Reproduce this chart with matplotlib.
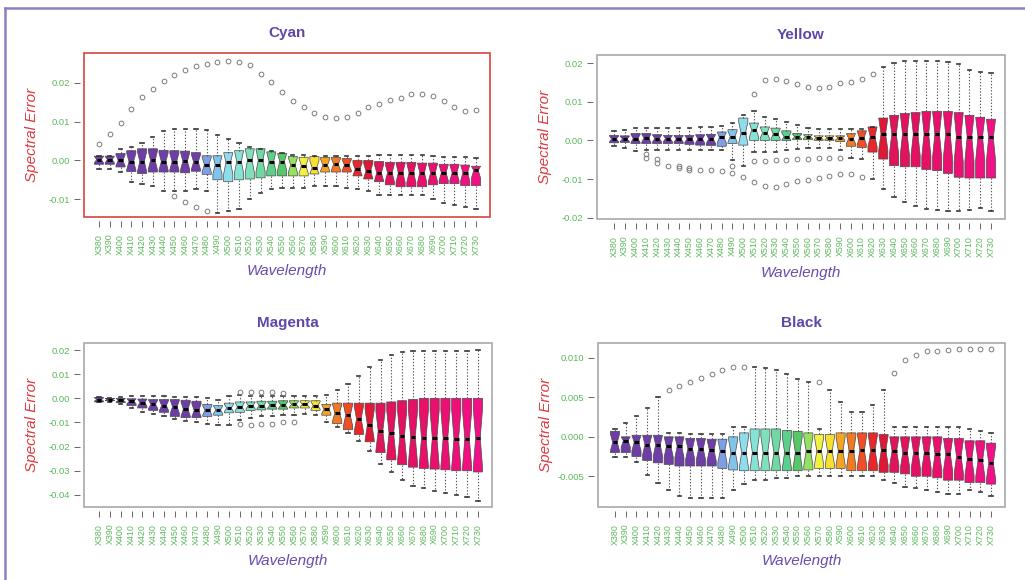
import numpy as np
import matplotlib
matplotlib.use("Agg")
import matplotlib.pyplot as plt
from matplotlib.patches import Rectangle
from matplotlib.lines import Line2D

plt.rcParams["font.family"] = ["Liberation Sans", "DejaVu Sans"]

W_PX, H_PX = 1025, 580

wavelength_labels = [
    "X380", "X390", "X400", "X410", "X420", "X430", "X440", "X450", "X460",
    "X470", "X480", "X490", "X500", "X510", "X520", "X530", "X540", "X550",
    "X560", "X570", "X580", "X590", "X600", "X610", "X620", "X630", "X640",
    "X650", "X660", "X670", "X680", "X690", "X700", "X710", "X720", "X730",
]

# ---- Cyan ----
cyan_med = [0.0002, 0.0002, 0.0000, -0.0003, -0.0003, 0.0000, -0.0003, -0.0003, -0.0002, -0.0004,
            -0.0011, -0.0011, -0.0005, -0.0003, 0.0000, 0.0000, -0.0003, -0.0003, -0.0012, -0.0014,
            -0.0019, -0.0012, -0.0010, -0.0012, -0.0023, -0.0027, -0.0032, -0.0032, -0.0032, -0.0032,
            -0.0032, -0.0032, -0.0032, -0.0032, -0.0032, -0.0026]
cyan_q3 = [0.0011, 0.0011, 0.0018, 0.0025, 0.0030, 0.0030, 0.0026, 0.0025, 0.0024, 0.0020,
           0.0012, 0.0012, 0.0020, 0.0025, 0.0030, 0.0030, 0.0022, 0.0018, 0.0010, 0.0008,
           0.0010, 0.0008, 0.0008, 0.0005, 0.0000, 0.0000, -0.0003, -0.0005, -0.0005, -0.0005,
           -0.0007, -0.0007, -0.0010, -0.0010, -0.0012, -0.0015]
cyan_q1 = [-0.0010, -0.0010, -0.0017, -0.0029, -0.0034, -0.0030, -0.0030, -0.0030, -0.0032, -0.0028,
           -0.0036, -0.0050, -0.0055, -0.0050, -0.0048, -0.0045, -0.0040, -0.0040, -0.0040, -0.0040,
           -0.0035, -0.0030, -0.0030, -0.0030, -0.0040, -0.0048, -0.0055, -0.0063, -0.0068, -0.0068,
           -0.0068, -0.0063, -0.0060, -0.0060, -0.0065, -0.0065]
cyan_hi = [0.0011, 0.0011, 0.0030, 0.0035, 0.0045, 0.0060, 0.0075, 0.0080, 0.0080, 0.0080,
           0.0078, 0.0065, 0.0055, 0.0045, 0.0035, 0.0030, 0.0025, 0.0020, 0.0015, 0.0015,
           0.0012, 0.0012, 0.0012, 0.0012, 0.0012, 0.0012, 0.0013, 0.0013, 0.0013, 0.0013,
           0.0013, 0.0012, 0.0010, 0.0010, 0.0008, 0.0005]
cyan_lo = [-0.0023, -0.0023, -0.0030, -0.0055, -0.0060, -0.0065, -0.0080, -0.0080, -0.0080, -0.0075,
           -0.0080, -0.0135, -0.0130, -0.0125, -0.0100, -0.0085, -0.0075, -0.0070, -0.0070, -0.0070,
           -0.0065, -0.0065, -0.0065, -0.0070, -0.0075, -0.0080, -0.0090, -0.0090, -0.0090, -0.0090,
           -0.0090, -0.0100, -0.0110, -0.0115, -0.0120, -0.0125]
cyan_out = {0: [0.0041], 1: [0.0068], 2: [0.0097], 3: [0.0132], 4: [0.0164], 5: [0.0185],
            6: [0.0205], 7: [0.0220, -0.0093], 8: [0.0233, -0.0107], 9: [0.0244, -0.0120],
            10: [0.0249, -0.0130], 11: [0.0254], 12: [0.0256], 13: [0.0254], 14: [0.0245],
            15: [0.0224], 16: [0.0201], 17: [0.0177], 18: [0.0153], 19: [0.0138], 20: [0.0121],
            21: [0.0112], 22: [0.0109], 23: [0.0112], 24: [0.0122], 25: [0.0137], 26: [0.0145],
            27: [0.0155], 28: [0.0162], 29: [0.0170], 30: [0.0170], 31: [0.0165], 32: [0.0154],
            33: [0.0138], 34: [0.0127], 35: [0.0130]}

# ---- Yellow ----
yellow_med = [0.0004, 0.0004, 0.0005, 0.0006, 0.0005, 0.0005, 0.0004, 0.0004, 0.0004, 0.0004,
              0.0008, 0.0010, 0.0020, 0.0027, 0.0020, 0.0017, 0.0010, 0.0010, 0.0010, 0.0007,
              0.0007, 0.0007, 0.0005, 0.0007, 0.0010, 0.0017, 0.0017, 0.0017, 0.0017, 0.0017,
              0.0017, 0.0017, 0.0010, 0.0010, 0.0010, 0.0008]
yellow_q3 = [0.0013, 0.0012, 0.0018, 0.0018, 0.0015, 0.0013, 0.0013, 0.0013, 0.0015, 0.0016,
             0.0022, 0.0028, 0.0058, 0.0045, 0.0035, 0.0032, 0.0025, 0.0018, 0.0015, 0.0012,
             0.0012, 0.0012, 0.0018, 0.0025, 0.0035, 0.0058, 0.0065, 0.0070, 0.0072, 0.0075,
             0.0075, 0.0075, 0.0072, 0.0065, 0.0060, 0.0055]
yellow_q1 = [-0.0006, -0.0005, -0.0008, -0.0008, -0.0008, -0.0008, -0.0008, -0.0010, -0.0012, -0.0013,
             -0.0015, -0.0008, -0.0012, 0.0000, 0.0000, 0.0000, 0.0000, 0.0002, 0.0002, 0.0000,
             0.0000, -0.0003, -0.0015, -0.0018, -0.0030, -0.0048, -0.0065, -0.0068, -0.0068, -0.0075,
             -0.0078, -0.0085, -0.0095, -0.0097, -0.0097, -0.0097]
yellow_hi = [0.0025, 0.0028, 0.0032, 0.0032, 0.0032, 0.0032, 0.0032, 0.0032, 0.0035, 0.0035,
             0.0038, 0.0045, 0.0065, 0.0075, 0.0062, 0.0055, 0.0048, 0.0040, 0.0033, 0.0030,
             0.0030, 0.0030, 0.0030, 0.0030, 0.0035, 0.0190, 0.0200, 0.0205, 0.0205, 0.0205,
             0.0205, 0.0203, 0.0198, 0.0182, 0.0178, 0.0175]
yellow_lo = [-0.0015, -0.0020, -0.0028, -0.0025, -0.0025, -0.0025, -0.0025, -0.0025, -0.0025, -0.0025,
             -0.0025, -0.0050, -0.0065, -0.0030, -0.0030, -0.0030, -0.0025, -0.0022, -0.0020, -0.0020,
             -0.0020, -0.0025, -0.0045, -0.0048, -0.0100, -0.0125, -0.0145, -0.0160, -0.0170, -0.0178,
             -0.0180, -0.0183, -0.0182, -0.0180, -0.0175, -0.0183]
yellow_out = {3: [-0.0036, -0.0046], 4: [-0.0049, -0.0058], 5: [-0.0066], 6: [-0.0066, -0.0070],
              7: [-0.0070, -0.0076], 8: [-0.0076], 9: [-0.0076], 10: [-0.0079], 11: [-0.0066, -0.0083],
              12: [-0.0094], 13: [0.0120, -0.0052, -0.0107], 14: [0.0156, -0.0052, -0.0118],
              15: [0.0160, -0.0050, -0.0119], 16: [0.0155, -0.0050, -0.0113],
              17: [0.0147, -0.0048, -0.0106], 18: [0.0137, -0.0048, -0.0103],
              19: [0.0135, -0.0046, -0.0097], 20: [0.0137, -0.0046, -0.0092],
              21: [0.0148, -0.0045, -0.0087], 22: [0.0151, -0.0087], 23: [0.0159, -0.0094],
              24: [0.0173]}

# ---- Magenta ----
magenta_med = [-0.0005, -0.0005, -0.0008, -0.0012, -0.0018, -0.0025, -0.0030, -0.0035, -0.0045, -0.0050,
               -0.0050, -0.0048, -0.0040, -0.0035, -0.0030, -0.0030, -0.0028, -0.0028, -0.0025, -0.0025,
               -0.0030, -0.0045, -0.0060, -0.0070, -0.0085, -0.0110, -0.0135, -0.0145, -0.0155, -0.0160,
               -0.0165, -0.0165, -0.0165, -0.0168, -0.0168, -0.0165]
magenta_q3 = [0.0003, 0.0000, 0.0000, -0.0002, -0.0003, -0.0005, -0.0005, -0.0005, -0.0008, -0.0012,
              -0.0025, -0.0030, -0.0020, -0.0015, -0.0015, -0.0012, -0.0012, -0.0010, -0.0010, -0.0010,
              -0.0010, -0.0025, -0.0020, -0.0020, -0.0020, -0.0020, -0.0020, -0.0015, -0.0010, -0.0005,
              0.0000, 0.0000, 0.0000, 0.0000, 0.0000, 0.0000]
magenta_q1 = [-0.0015, -0.0010, -0.0018, -0.0030, -0.0040, -0.0050, -0.0058, -0.0075, -0.0080, -0.0080,
              -0.0075, -0.0070, -0.0060, -0.0058, -0.0050, -0.0048, -0.0045, -0.0045, -0.0040, -0.0040,
              -0.0050, -0.0070, -0.0105, -0.0130, -0.0150, -0.0180, -0.0225, -0.0255, -0.0275, -0.0285,
              -0.0290, -0.0293, -0.0296, -0.0300, -0.0300, -0.0305]
magenta_hi = [0.0005, 0.0003, 0.0005, 0.0008, 0.0008, 0.0008, 0.0008, 0.0005, 0.0005, 0.0005,
              0.0000, -0.0005, 0.0008, 0.0012, 0.0008, 0.0008, 0.0008, 0.0008, 0.0008, 0.0008,
              0.0008, 0.0012, 0.0035, 0.0060, 0.0093, 0.0130, 0.0160, 0.0180, 0.0190, 0.0195,
              0.0197, 0.0197, 0.0197, 0.0197, 0.0197, 0.0199]
magenta_lo = [-0.0015, -0.0015, -0.0025, -0.0040, -0.0055, -0.0065, -0.0075, -0.0085, -0.0095, -0.0100,
              -0.0105, -0.0110, -0.0110, -0.0090, -0.0080, -0.0075, -0.0075, -0.0070, -0.0070, -0.0065,
              -0.0070, -0.0100, -0.0120, -0.0145, -0.0175, -0.0220, -0.0270, -0.0307, -0.0340, -0.0362,
              -0.0370, -0.0383, -0.0390, -0.0400, -0.0410, -0.0425]
magenta_out = {13: [0.0025, -0.0105], 14: [0.0025, -0.0110], 15: [0.0025, -0.0105],
               16: [0.0025, -0.0105], 17: [0.0020, -0.0100], 18: [-0.0098]}

# ---- Black ----
black_med = [-0.0007, -0.0005, -0.0007, -0.0010, -0.0010, -0.0012, -0.0012, -0.0015, -0.0015, -0.0017,
             -0.0018, -0.0020, -0.0020, -0.0020, -0.0020, -0.0020, -0.0020, -0.0020, -0.0018, -0.0018,
             -0.0018, -0.0018, -0.0018, -0.0017, -0.0017, -0.0017, -0.0018, -0.0020, -0.0020, -0.0020,
             -0.0022, -0.0022, -0.0025, -0.0028, -0.0030, -0.0033]
black_q3 = [0.0007, 0.0000, 0.0002, 0.0002, 0.0002, 0.0000, 0.0000, -0.0002, -0.0002, -0.0003,
            -0.0003, 0.0000, 0.0005, 0.0010, 0.0010, 0.0010, 0.0008, 0.0007, 0.0005, 0.0003,
            0.0003, 0.0005, 0.0005, 0.0005, 0.0005, 0.0003, 0.0000, 0.0000, 0.0000, 0.0000,
            0.0000, -0.0002, -0.0002, -0.0005, -0.0005, -0.0008]
black_q1 = [-0.0020, -0.0020, -0.0025, -0.0030, -0.0033, -0.0035, -0.0037, -0.0037, -0.0037, -0.0037,
            -0.0040, -0.0042, -0.0043, -0.0043, -0.0043, -0.0043, -0.0043, -0.0043, -0.0042, -0.0040,
            -0.0040, -0.0040, -0.0043, -0.0043, -0.0043, -0.0045, -0.0045, -0.0047, -0.0050, -0.0050,
            -0.0052, -0.0055, -0.0055, -0.0058, -0.0058, -0.0060]
black_hi = [0.0010, 0.0017, 0.0027, 0.0037, 0.0050, 0.0005, 0.0005, 0.0003, 0.0003, 0.0003,
            0.0003, 0.0012, 0.0012, 0.0088, 0.0087, 0.0085, 0.0080, 0.0073, 0.0070, 0.0010,
            0.0060, 0.0044, 0.0032, 0.0032, 0.0041, 0.0060, 0.0013, 0.0013, 0.0013, 0.0013,
            0.0013, 0.0012, 0.0012, 0.0010, 0.0008, 0.0005]
black_lo = [-0.0025, -0.0025, -0.0032, -0.0048, -0.0058, -0.0068, -0.0075, -0.0078, -0.0078, -0.0078,
            -0.0077, -0.0068, -0.0060, -0.0055, -0.0055, -0.0052, -0.0052, -0.0050, -0.0050, -0.0050,
            -0.0050, -0.0050, -0.0050, -0.0050, -0.0050, -0.0055, -0.0058, -0.0063, -0.0065, -0.0068,
            -0.0070, -0.0073, -0.0073, -0.0068, -0.0070, -0.0075]
black_out = {5: [0.0060], 6: [0.0065], 7: [0.0070], 8: [0.0075], 9: [0.0080], 10: [0.0085],
             11: [0.0088], 12: [0.0089], 19: [0.0070], 26: [0.0081], 27: [0.0097], 28: [0.0104],
             29: [0.0109], 30: [0.0109], 31: [0.0110], 32: [0.0111], 33: [0.0112], 34: [0.0112],
             35: [0.0112]}

n_obs = 16  # samples per wavelength, used for the notch half-height

box_colors = ["#6e3ea6"] * 10 + [
    "#7f9fe4", "#80c4ec", "#8edcec", "#86e2d4", "#7ee0bc", "#70d8a4", "#5ccf8a", "#56c86a",
    "#94e060", "#f2f040", "#f8e030", "#f4a424", "#f07a24", "#f04e26", "#e8262c", "#e01838",
    "#e0145a", "#e2125e", "#e41062", "#e61066", "#e8106a", "#ea106e", "#ec1074", "#ee107a",
    "#f01080", "#f21086",
]

panels = [
    ("Cyan", cyan_med, cyan_q1, cyan_q3, cyan_lo, cyan_hi, cyan_out,
     [84, 53, 406, 164], (-0.0146, 0.0277), [0.02, 0.01, 0.0, -0.01], "{:.2f}", "#d4453f", -0.39),
    ("Yellow", yellow_med, yellow_q1, yellow_q3, yellow_lo, yellow_hi, yellow_out,
     [597, 55, 408, 164], (-0.0203, 0.0221), [0.02, 0.01, 0.0, -0.01, -0.02], "{:.2f}", "#a8a8a8", -0.58),
    ("Magenta", magenta_med, magenta_q1, magenta_q3, magenta_lo, magenta_hi, magenta_out,
     [84, 343, 408, 164], (-0.045, 0.0229), [0.02, 0.01, 0.0, -0.01, -0.02, -0.03, -0.04], "{:.2f}", "#a8a8a8", -0.39),
    ("Black", black_med, black_q1, black_q3, black_lo, black_hi, black_out,
     [598, 343, 407, 164], (-0.0089, 0.0119), [0.010, 0.005, 0.0, -0.005], "{:.3f}", "#a8a8a8", -0.58),
]

fig = plt.figure(figsize=(W_PX / 100, H_PX / 100), dpi=100)

# lavender outer border
fig.add_artist(Line2D([0.005, 1.0], [1 - 8 / H_PX, 1 - 8 / H_PX], transform=fig.transFigure,
                      color="#8c80c4", lw=1.8))
fig.add_artist(Line2D([0.005, 0.005], [0.0, 1 - 8 / H_PX], transform=fig.transFigure,
                      color="#8c80c4", lw=1.8))

positions = np.arange(1, 37)
for (name, med, q1, q3, lo, hi, out, box, ylim, yticks, fmt, frame_col, xleft) in panels:
    x0, y0, w, h = box
    ax = fig.add_axes([x0 / W_PX, 1 - (y0 + h) / H_PX, w / W_PX, h / H_PX])

    # detached R-style axes: ticks sit a few pixels off the frame
    for side in ("left", "bottom"):
        ax.spines[side].set_position(("outward", 3))
    for side in ax.spines:
        ax.spines[side].set_visible(False)

    stats = []
    for i in range(36):
        half = 1.58 * (q3[i] - q1[i]) / np.sqrt(n_obs)
        stats.append(dict(
            med=med[i], q1=q1[i], q3=q3[i], whislo=lo[i], whishi=hi[i],
            cilo=max(q1[i], med[i] - half), cihi=min(q3[i], med[i] + half),
            fliers=out.get(i, []),
        ))

    bp = ax.bxp(stats, positions=positions, widths=0.85, patch_artist=True,
                shownotches=True, manage_ticks=False, capwidths=0.3,
                boxprops=dict(edgecolor="#4a4a4a", linewidth=0.5),
                whiskerprops=dict(color="#555555", linewidth=0.8, linestyle=(0, (1.2, 1.6))),
                capprops=dict(color="#333333", linewidth=1.2),
                medianprops=dict(color="black", linewidth=2.2, solid_capstyle="butt"),
                flierprops=dict(marker="o", markersize=3.4, markerfacecolor="none",
                                markeredgecolor="#7a7a7a", markeredgewidth=0.7))
    for patch, col in zip(bp["boxes"], box_colors):
        patch.set_facecolor(col)

    ax.set_xlim(xleft, 37.3)
    ax.set_ylim(*ylim)
    ax.set_xticks(positions)
    ax.set_xticklabels(wavelength_labels)
    ax.set_yticks(yticks)
    ax.set_yticklabels([fmt.format(v) for v in yticks])

    ax.add_patch(Rectangle((0, 0), 1, 1, transform=ax.transAxes, fill=False,
                           edgecolor=frame_col, linewidth=1.2, clip_on=False, zorder=6))
    ax.tick_params(axis="both", direction="out", length=4, width=0.7, color="#666666",
                   labelcolor="#5cb85c", labelsize=6.8, pad=3)
    ax.tick_params(axis="x", labelsize=6.4, pad=5, labelrotation=90)

    ax.set_ylabel("Spectral Error", color="#e0393e", fontsize=11, style="italic")
    ax.yaxis.set_label_coords(-45 / w, 0.5)
    ax.set_xlabel("Wavelength", color="#6a4bb0", fontsize=11, style="italic")
    ax.xaxis.set_label_coords(0.5, -47 / h)
    ax.text(0.5, 1 + 20 / h, name, transform=ax.transAxes, ha="center", va="center",
            fontsize=11, fontweight="bold", color="#6046a8")

fig.savefig("out.png", dpi=100, facecolor="white")
